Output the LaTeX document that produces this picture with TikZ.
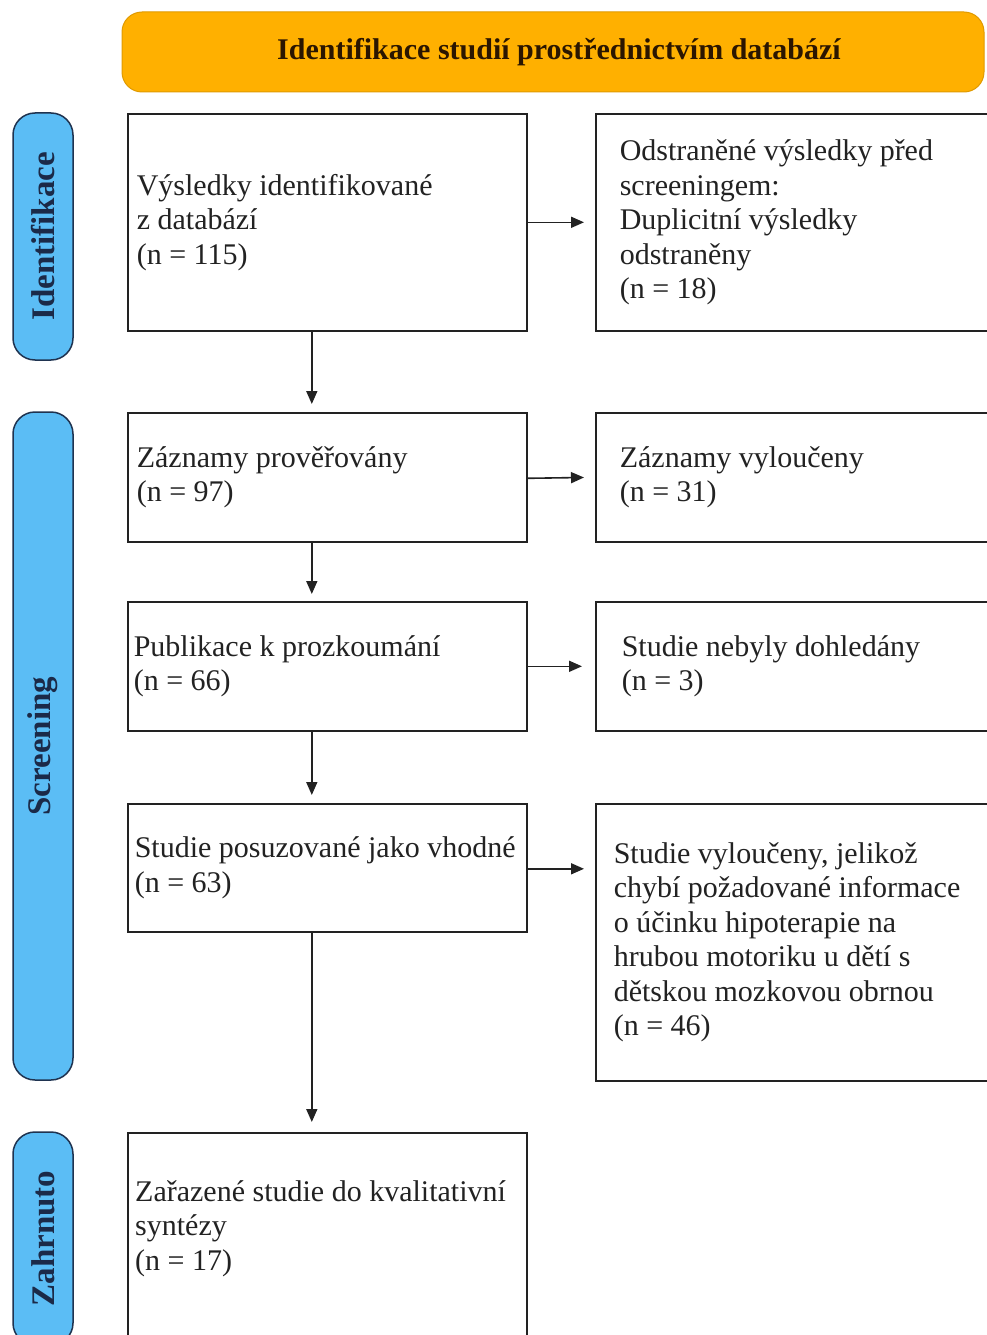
\documentclass[tikz,border=0pt]{standalone}
\usepackage{fontspec}
\setmainfont{Liberation Serif}
\usetikzlibrary{arrows.meta}
\definecolor{hdrfill}{HTML}{FFB000}
\definecolor{hdrdraw}{HTML}{E09A00}
\definecolor{hdrtext}{HTML}{2B1600}
\definecolor{sidefill}{HTML}{5BBDF5}
\definecolor{sidedraw}{HTML}{1F3350}
\definecolor{sidetext}{HTML}{1B2A48}
\definecolor{ink}{HTML}{222222}
\begin{document}
\begin{tikzpicture}[x=1pt,y=-1pt,
  box/.style={draw=ink, line width=1.6pt, rectangle, anchor=north west, align=flush left,
    font=\fontsize{30}{34.5}\selectfont, text=ink, inner ysep=0pt},
  txt/.style={align=flush left, font=\fontsize{30}{34.5}\selectfont, text=ink, inner sep=0pt},
  side/.style={rotate=90, draw=sidedraw, fill=sidefill, rounded corners=22pt, line width=1.5pt,
    font=\bfseries\fontsize{33}{36}\selectfont, text=sidetext, inner sep=0pt, minimum height=60pt},
  hdr/.style={draw=hdrdraw, fill=hdrfill, rounded corners=20pt, line width=1pt,
    font=\bfseries\fontsize{30}{34}\selectfont, text=hdrtext, inner sep=0pt,
    minimum width=862pt, minimum height=80pt},
  arr/.style={draw=ink, line width=1.6pt, -{Triangle[length=13pt,width=11pt]}}
]
\useasboundingbox (0,0) rectangle (987,1335);
\fill[white] (0,0) rectangle (987,1335);

% header
\node[hdr] (h) at (553,52) {\hspace{12pt}Identifikace studií prostřednictvím databází};

% side labels
\node[side, minimum width=247pt] (s1) at (43,236.5) {Identifikace};
\node[side, minimum width=668pt] (s2) at (43,746) {Screening};
\node[side, minimum width=213pt] (s3) at (43,1238.5) {Zahrnuto};

% left column
\node[box, minimum height=217pt, inner xsep=9pt, text width=381pt] (b1) at (127,113)
  {Výsledky identifikované\\z databází\\(n = 115)};
\node[box, minimum height=129pt, inner xsep=9pt, text width=381pt] (b2) at (127,412)
  {Záznamy prověřovány\\(n = 97)};
\node[box, minimum height=129pt, inner xsep=6pt, text width=387pt] (b3) at (127,601)
  {Publikace k prozkoumání\\(n = 66)};
\node[box, minimum height=128pt, inner xsep=7pt, text width=385pt] (b4) at (127,803)
  {\mbox{Studie posuzované jako vhodné}\\(n = 63)};
\node[box, minimum height=230pt, minimum width=399pt] (b5) at (127,1132) {};
\node[txt, anchor=base west] (t5) at (135,1270)
  {Zařazené studie do kvalitativní\\syntézy\\(n = 17)};

% right column
\node[box, minimum height=217pt, inner xsep=24pt, text width=367pt] (r1) at (595,113)
  {Odstraněné výsledky před\\screeningem:\\Duplicitní výsledky\\odstraněny\\(n = 18)};
\node[box, minimum height=129pt, inner xsep=24pt, text width=367pt] (r2) at (595,412)
  {Záznamy vyloučeny\\(n = 31)};
\node[box, minimum height=129pt, inner xsep=26pt, text width=363pt] (r3) at (595,601)
  {Studie nebyly dohledány\\(n = 3)};
\node[box, minimum height=277pt, inner xsep=18pt, text width=379pt] (r4) at (595,803)
  {Studie vyloučeny, jelikož\\chybí požadované informace\\o účinku hipoterapie na\\hrubou motoriku u dětí s\\dětskou mozkovou obrnou\\(n = 46)};

% horizontal arrows
\draw[arr, shorten >=11pt] (b1.east) -- (r1.west);
\draw[arr, shorten >=11pt] ([yshift=-1pt]b2.east) -- (r2.west);
\draw[arr, shorten >=13pt] (b3.east) -- (b3.east -| r3.west);
\draw[arr, shorten >=11pt] ([yshift=-1pt]b4.east) -- ([yshift=-1pt]b4.east -| r4.west);

% vertical arrows
\draw[arr, shorten >=8pt] ([xshift=-15.5pt]b1.south) -- ([xshift=-15.5pt]b2.north);
\draw[arr, shorten >=7pt] ([xshift=-15.5pt]b2.south) -- ([xshift=-15.5pt]b3.north);
\draw[arr, shorten >=8pt] ([xshift=-15.5pt]b3.south) -- ([xshift=-15.5pt]b4.north);
\draw[arr, shorten >=10pt] ([xshift=-15.5pt]b4.south) -- ([xshift=-15.5pt]b5.north);
\end{tikzpicture}
\end{document}
